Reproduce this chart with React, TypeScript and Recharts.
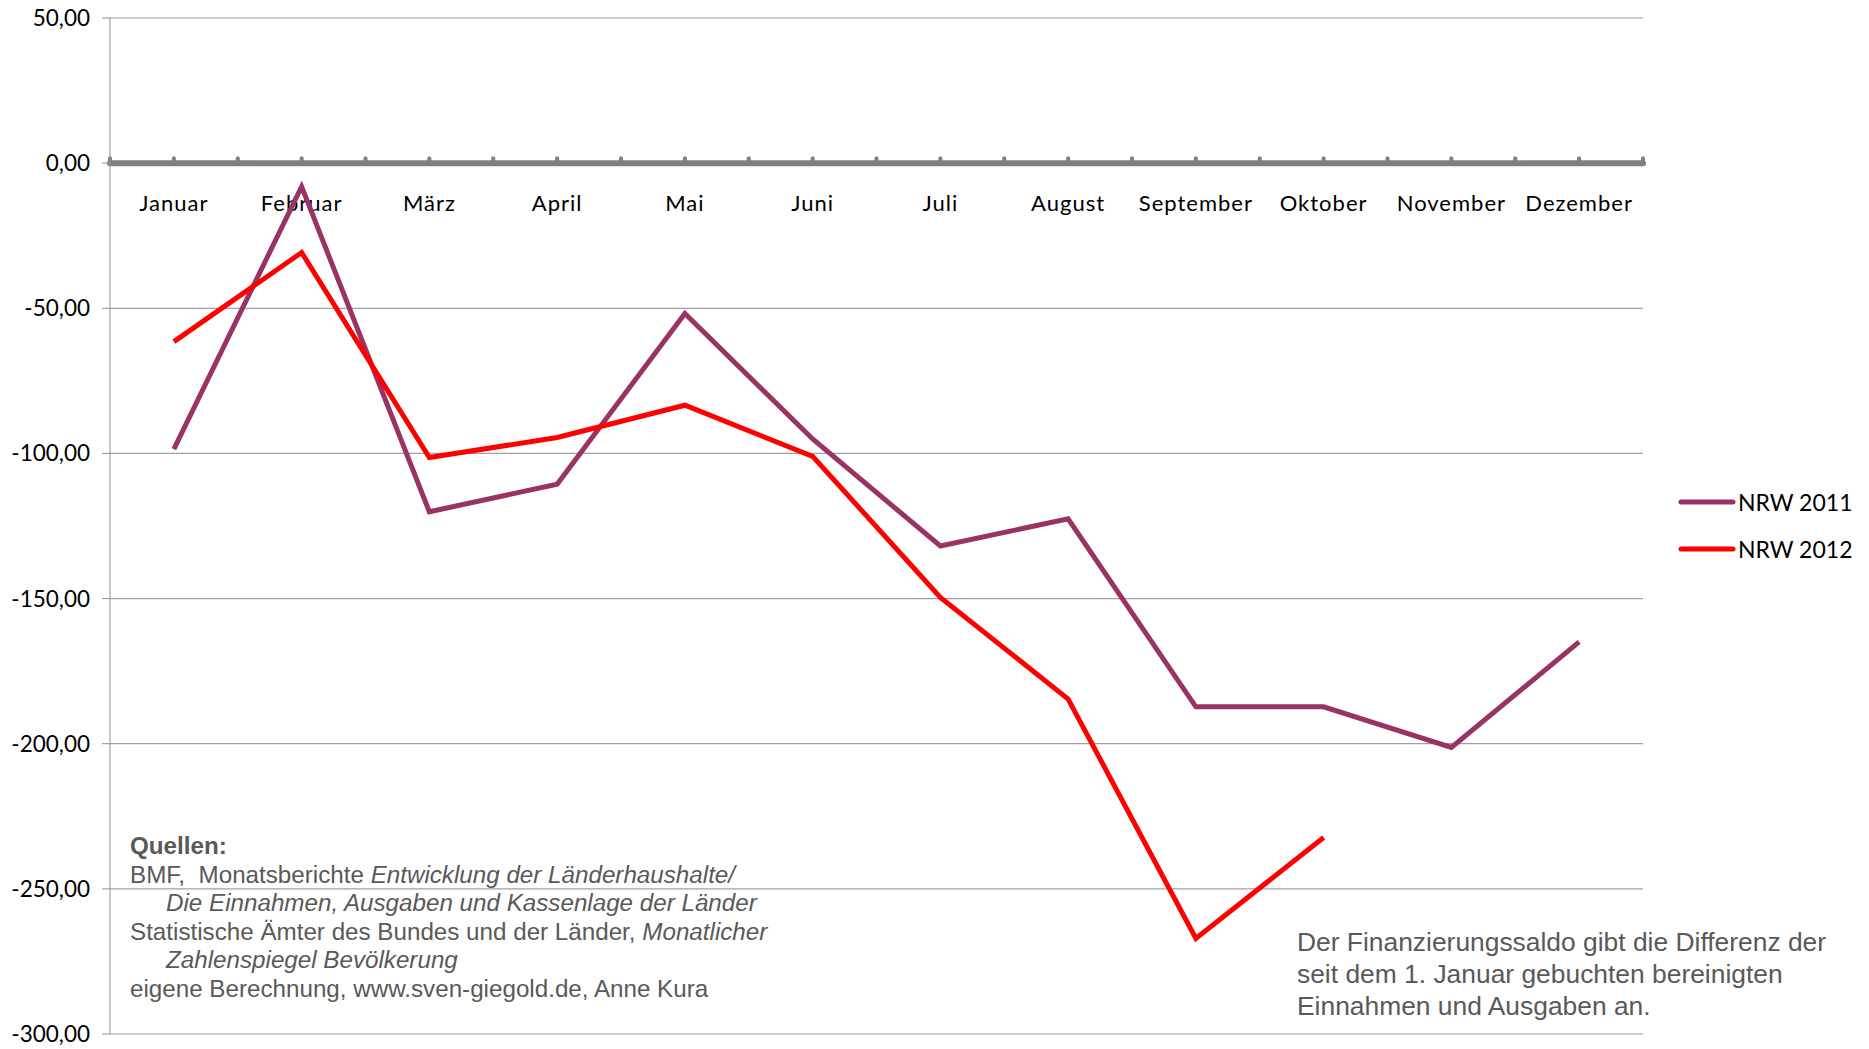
import { LineChart, Line, XAxis, YAxis, CartesianGrid, ReferenceLine, Legend } from 'recharts';

// ─── Data ─────────────────────────────────

const months = [
  'Januar', 'Februar', 'März', 'April', 'Mai', 'Juni',
  'Juli', 'August', 'September', 'Oktober', 'November', 'Dezember',
];

const nrw2011 = [-98.5, -8.1, -120.1, -110.6, -51.8, -95, -131.9, -122.5, -187.3, -187.3, -201.3, -164.9];
const nrw2012 = [-61.5, -30.8, -101.4, -94.5, -83.4, -101, -149.6, -184.6, -267.1, -232.3, null, null];

const yTicks = [50, 0, -50, -100, -150, -200, -250, -300];

const data = months.map((m, i) => ({ month: m, nrw2011: nrw2011[i], nrw2012: nrw2012[i] }));

// ─── Helpers ─────────────────────────────

const fmt = (v: number) => v.toFixed(2).replace('.', ',');

const AXIS_FONT = 'Lato, "Open Sans", sans-serif';
const NOTE_FONT = '"Liberation Sans", Arial, sans-serif';

// zero line drawn as the category axis (Excel style), with ticks and month labels
function ZeroAxis(props: any) {
  const { x1, x2, y1 } = props;
  const step = (x2 - x1) / (months.length * 2);
  const stubs = Array.from({ length: months.length * 2 + 1 }, (_, k) => x1 + k * step);
  return (
    <g>
      <line x1={x1} y1={y1} x2={x2} y2={y1} stroke="#808080" strokeWidth={6} strokeLinecap="round" />
      {stubs.map((x, k) => (
        <line key={k} x1={x} y1={y1} x2={x} y2={y1 - 5} stroke="#808080" strokeWidth={4} strokeLinecap="round" />
      ))}
      {months.map((m, i) => (
        <text
          key={m}
          x={x1 + (2 * i + 1) * step}
          y={y1 + 48}
          textAnchor="middle"
          fontFamily={AXIS_FONT}
          fontSize={22}
          letterSpacing={1}
          fill="#000"
        >
          {m}
        </text>
      ))}
    </g>
  );
}

function LegendContent({ payload }: any) {
  return (
    <div style={{ fontFamily: AXIS_FONT, fontSize: 23, color: '#000' }}>
      {(payload || []).map((p: any) => (
        <div key={p.value} style={{ display: 'flex', alignItems: 'center', height: 47 }}>
          <svg width={60} height={10} style={{ display: 'block' }}>
            <line x1={3} y1={5} x2={55} y2={5} stroke={p.color} strokeWidth={5} strokeLinecap="round" />
          </svg>
          <span style={{ whiteSpace: 'nowrap' }}>{p.value}</span>
        </div>
      ))}
    </div>
  );
}

// ─── Component ───────────────────────────

export default function App() {
  return (
    <div style={{ position: 'relative', width: 1869, height: 1049, background: '#fff' }}>
      <style>{'body{margin:0}'}</style>
      <LineChart
        width={1869}
        height={1049}
        data={data}
        margin={{ top: 18, right: 226, bottom: 15, left: 0 }}
      >
        <CartesianGrid vertical={false} stroke="#a0a0a0" strokeWidth={1.2} />
        <XAxis dataKey="month" scale="band" hide />
        <YAxis
          width={110}
          domain={[-300, 50]}
          ticks={yTicks}
          tickFormatter={fmt}
          interval={0}
          tick={{ fontSize: 22.5, fontFamily: AXIS_FONT, fill: '#000' }}
          tickSize={8}
          tickMargin={12}
          axisLine={{ stroke: '#909090' }}
          tickLine={{ stroke: '#909090' }}
        />
        <ReferenceLine y={0} shape={ZeroAxis} ifOverflow="visible" />
        <Line
          type="linear"
          dataKey="nrw2011"
          name="NRW 2011"
          stroke="#993366"
          strokeWidth={5}
          dot={false}
          isAnimationActive={false}
        />
        <Line
          type="linear"
          dataKey="nrw2012"
          name="NRW 2012"
          stroke="#ff0000"
          strokeWidth={5}
          dot={false}
          isAnimationActive={false}
        />
        <Legend
          layout="vertical"
          align="center"
          verticalAlign="middle"
          content={<LegendContent />}
          wrapperStyle={{ left: 1678, top: 478, width: 191 }}
        />
      </LineChart>

      {/* Sources note */}
      <div
        style={{
          position: 'absolute',
          left: 130,
          top: 832,
          fontFamily: NOTE_FONT,
          fontSize: 24.2,
          lineHeight: '28.6px',
          color: '#595959',
          whiteSpace: 'nowrap',
        }}
      >
        <div style={{ fontWeight: 'bold' }}>Quellen:</div>
        <div>
          BMF,&nbsp; Monatsberichte <i>Entwicklung der Länderhaushalte/</i>
        </div>
        <div style={{ paddingLeft: 36 }}>
          <i>Die Einnahmen, Ausgaben und Kassenlage der Länder</i>
        </div>
        <div>
          Statistische Ämter des Bundes und der Länder, <i>Monatlicher</i>
        </div>
        <div style={{ paddingLeft: 36 }}>
          <i>Zahlenspiegel Bevölkerung</i>
        </div>
        <div>eigene Berechnung, www.sven-giegold.de, Anne Kura</div>
      </div>

      {/* Explanation */}
      <div
        style={{
          position: 'absolute',
          left: 1297,
          top: 926,
          fontFamily: NOTE_FONT,
          fontSize: 26.4,
          lineHeight: '32px',
          color: '#595959',
          whiteSpace: 'nowrap',
        }}
      >
        <div>Der Finanzierungssaldo gibt die Differenz der</div>
        <div>seit dem 1. Januar gebuchten bereinigten</div>
        <div>Einnahmen und Ausgaben an.</div>
      </div>
    </div>
  );
}
